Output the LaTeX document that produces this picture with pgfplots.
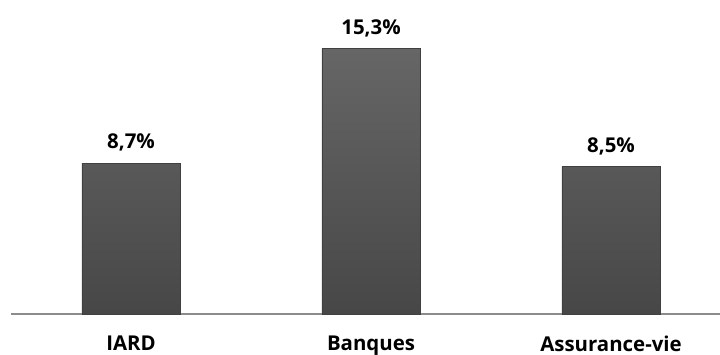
\documentclass[border=0pt]{standalone}
\usepackage{fontspec}
\setmainfont{Open Sans}
\usepackage{pgfplots}
\pgfplotsset{compat=1.18}
\definecolor{barTop}{HTML}{666666}
\definecolor{barBot}{HTML}{474747}
\definecolor{barEdge}{HTML}{404040}
\definecolor{baseLine}{HTML}{8C8C8C}
\begin{document}
\begin{tikzpicture}
\begin{axis}[
  scale only axis,
  width=709bp, height=314bp,
  xmin=-0.5, xmax=2.454,
  ymin=0, ymax=18.1,
  hide y axis,
  axis x line=bottom,
  axis line style={baseLine, line width=1.4bp, -},
  x axis line style={-},
  xtick={0,1,2},
  xticklabels={IARD,Banques,Assurance-vie},
  xtick style={draw=none},
  xticklabel style={font=\fontsize{20.5}{24}\selectfont\bfseries, anchor=north, yshift=-14bp},
  ybar, bar width=0.41,
  nodes near coords,
  point meta=explicit symbolic,
  nodes near coords style={font=\fontsize{20.5}{24}\selectfont\bfseries, anchor=south, yshift=8bp},
  clip=false,
]
\addplot[draw=barEdge, line width=0.6bp, top color=barTop, bottom color=barBot, shading angle=0]
  coordinates {(0,8.7)[8,7\%] (1,15.3)[15,3\%] (2,8.5)[8,5\%]};
\end{axis}
\pgfresetboundingbox
\path ([xshift=-11bp,yshift=-41bp]current axis.south west) rectangle (current axis.north east);
\end{tikzpicture}
\end{document}
